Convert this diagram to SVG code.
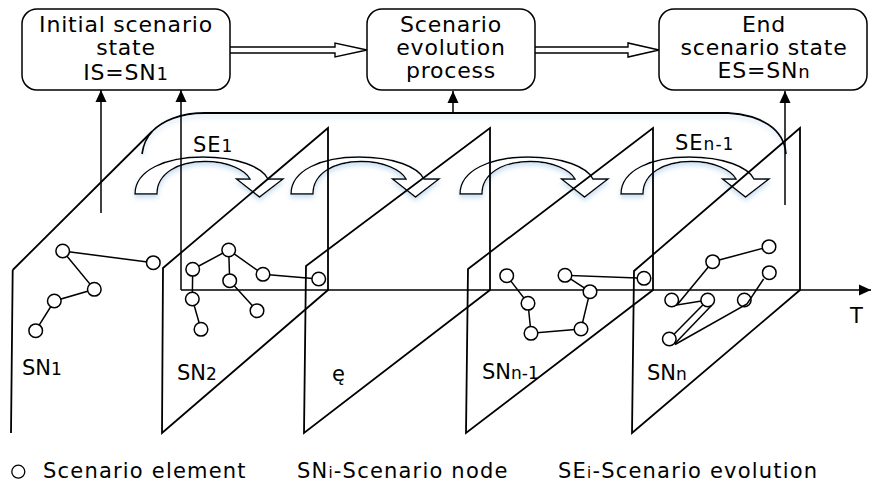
<svg xmlns="http://www.w3.org/2000/svg" xmlns:xlink="http://www.w3.org/1999/xlink" width="872" height="485" viewBox="0 0 872 485">
<style>
.box{fill:#fff;stroke:#000;stroke-width:1.5}
.bt{font-family:"DejaVu Sans","Liberation Sans",sans-serif;font-size:22px;letter-spacing:0.8px;fill:#000;text-anchor:middle}
.lb{font-family:"DejaVu Sans","Liberation Sans",sans-serif;font-size:21px;fill:#000}
.lg{font-family:"DejaVu Sans","Liberation Sans",sans-serif;font-size:21px;letter-spacing:1.2px;fill:#000}
.sub{font-size:17px}
.pl{fill:none;stroke:#000;stroke-width:1.8;stroke-linejoin:miter}
.ed{fill:none;stroke:#000;stroke-width:1.5}
.nd{fill:#fff;stroke:#000;stroke-width:1.5}
.con{fill:none;stroke:#000;stroke-width:1.5}
.hol{fill:#fff;stroke:#000;stroke-width:1.4;stroke-linejoin:miter}
.se{fill:#fff;stroke:#000;stroke-width:1.4;stroke-linejoin:miter}
</style>
<defs>
<marker id="ah" viewBox="0 0 12 12" markerWidth="12" markerHeight="12" refX="12" refY="6" orient="auto" markerUnits="userSpaceOnUse">
<path d="M0,0.5 L12,6 L0,11.5 Z" fill="#000"/>
</marker>
<filter id="glow" x="-20%" y="-30%" width="140%" height="170%">
<feDropShadow dx="0" dy="3" stdDeviation="2.5" flood-color="#9cc3e6" flood-opacity="0.55"/>
</filter>
<path id="se" d="M135,194 C135,170 166,157 203,157 C238,157 262,167 268,179 L283,179 L259.5,197 L236.5,179 L250,179 C245,170 228,161.5 205,161.5 C177,161.5 157,174 157,194 Z"/>
</defs>
<rect width="872" height="485" fill="#fff"/>

<!-- bracket and evolution arrows -->
<g id="evolution" filter="url(#glow)">
<path class="pl" d="M142,154 Q144,140 152,131.5 C162,121 180,113 205,113 L728,113 C760,115 784,128 786,154"/>
<g class="se">
<use xlink:href="#se"/>
<use xlink:href="#se" x="156"/>
<use xlink:href="#se" x="325"/>
<use xlink:href="#se" x="486"/>
</g>
</g>

<!-- scenario planes -->
<g id="planes">
<path class="pl" d="M12.7,270 L11,433 M12.7,270 L152,131.5"/>
<polygon class="pl" points="163,268 328,128 328,290 162,433"/>
<polygon class="pl" points="306,266 490,128 490,290 304,433"/>
<polygon class="pl" points="468,269 653,128 653,290 466,433"/>
<polygon class="pl" points="634,271 800,128 800,290 632,433"/>
</g>

<!-- connectors -->
<g id="connectors">
<line class="con" x1="181" y1="290" x2="871" y2="290" stroke-width="1.8" marker-end="url(#ah)"/>
<line class="con" x1="101" y1="213" x2="101" y2="90" marker-end="url(#ah)"/>
<line class="con" x1="181" y1="290" x2="181" y2="90" stroke-width="1.8" marker-end="url(#ah)"/>
<line class="con" x1="453" y1="113" x2="453" y2="91" marker-end="url(#ah)"/>
<line class="con" x1="785" y1="205" x2="785" y2="91" marker-end="url(#ah)"/>
<polyline class="hol" points="230,47 335,47 335,43 367,50 335,57 335,53 230,53"/>
<polyline class="hol" points="535,47 628,47 628,43 659,50 628,57 628,53 535,53"/>
</g>

<!-- SN1 graph -->
<g id="sn1">
<polyline class="ed" points="153.3,262.7 62.7,251 94.3,289.3 54.3,301 35.7,330.7"/>
<circle class="nd" cx="62.7" cy="251" r="6.8"/>
<circle class="nd" cx="153.3" cy="262.7" r="6.8"/>
<circle class="nd" cx="94.3" cy="289.3" r="6.8"/>
<circle class="nd" cx="54.3" cy="301" r="6.8"/>
<circle class="nd" cx="35.7" cy="330.7" r="6.8"/>
</g>

<!-- SN2 graph -->
<g id="sn2">
<polyline class="ed" points="201,329.3 192.3,299 192.7,269.3 228.7,250 263,274.3 318.7,279"/>
<polyline class="ed" points="228.7,250 229.7,280.7 257,310.7"/>
<circle class="nd" cx="192.7" cy="269.3" r="6.8"/>
<circle class="nd" cx="228.7" cy="250" r="6.8"/>
<circle class="nd" cx="263" cy="274.3" r="6.8"/>
<circle class="nd" cx="229.7" cy="280.7" r="6.8"/>
<circle class="nd" cx="192.3" cy="299" r="6.8"/>
<circle class="nd" cx="201" cy="329.3" r="6.8"/>
<circle class="nd" cx="257" cy="310.7" r="6.8"/>
<circle class="nd" cx="318.7" cy="279" r="6.8"/>
</g>

<!-- SNn-1 graph -->
<g id="snn1">
<polyline class="ed" points="506.7,275.7 528,303.3 531,333.3 581,329 590,291.7 565,275.3 644,278.3"/>
<circle class="nd" cx="506.7" cy="275.7" r="6.8"/>
<circle class="nd" cx="528" cy="303.3" r="6.8"/>
<circle class="nd" cx="531" cy="333.3" r="6.8"/>
<circle class="nd" cx="581" cy="329" r="6.8"/>
<circle class="nd" cx="590" cy="291.7" r="6.8"/>
<circle class="nd" cx="565" cy="275.3" r="6.8"/>
</g>

<!-- SNn graph -->
<g id="snn">
<polyline class="ed" points="769,246.7 712.7,261.7 677,305 707.7,300"/>
<line class="ed" x1="707.7" y1="300" x2="669.3" y2="339"/>
<circle class="nd" cx="644" cy="278.3" r="6.8"/>
<circle class="nd" cx="712.7" cy="261.7" r="6.8"/>
<circle class="nd" cx="769" cy="246.7" r="6.8"/>
<circle class="nd" cx="769.3" cy="272.7" r="6.8"/>
<circle class="nd" cx="671.7" cy="300" r="6.8"/>
<circle class="nd" cx="707.7" cy="300" r="6.8"/>
<circle class="nd" cx="744.3" cy="300" r="6.8"/>
<circle class="nd" cx="669.3" cy="339" r="6.8"/>
<polyline class="ed" points="763.6,279 747,304 675,344.5"/>
<line class="ed" x1="711.5" y1="305.5" x2="674.5" y2="344"/>
</g>

<!-- boxes -->
<g id="initial">
<rect class="box" x="22" y="9" width="208" height="81" rx="15"/>
<text class="bt" x="126" y="32">Initial scenario</text>
<text class="bt" x="126" y="55">state</text>
<text class="bt" x="126" y="80">IS=SN<tspan font-size="18">1</tspan></text>
</g>
<g id="process">
<rect class="box" x="367" y="9" width="168" height="81" rx="15"/>
<text class="bt" x="451" y="32">Scenario</text>
<text class="bt" x="451" y="55">evolution</text>
<text class="bt" x="451" y="78">process</text>
</g>
<g id="end">
<rect class="box" x="659" y="9" width="208" height="81" rx="15"/>
<text class="bt" x="764" y="32">End</text>
<text class="bt" x="764" y="55">scenario state</text>
<text class="bt" x="764" y="78">ES=SN<tspan font-size="18">n</tspan></text>
</g>

<!-- labels -->
<g id="labels">
<text class="lb" x="193" y="152" letter-spacing="1">SE<tspan class="sub">1</tspan></text>
<text class="lb" x="675" y="150" letter-spacing="1">SE<tspan class="sub">n-1</tspan></text>
<text class="lb" x="22" y="375">SN<tspan class="sub">1</tspan></text>
<text class="lb" x="177" y="380">SN<tspan class="sub">2</tspan></text>
<text class="lb" x="332" y="381" font-size="17" fill="#555">ę</text>
<text class="lb" x="482" y="379">SN<tspan class="sub">n-1</tspan></text>
<text class="lb" x="647" y="380">SN<tspan class="sub">n</tspan></text>
<text class="lb" x="850" y="323">T</text>
</g>

<!-- legend -->
<g id="legend">
<circle cx="18.3" cy="471.7" r="6.5" fill="#fff" stroke="#000" stroke-width="1.3"/>
<text class="lg" x="43" y="478">Scenario element</text>
<text class="lg" x="297" y="478">SN<tspan font-size="15">i</tspan>-Scenario node</text>
<text class="lg" x="558" y="478">SE<tspan font-size="15">i</tspan>-Scenario evolution</text>
</g>
</svg>
